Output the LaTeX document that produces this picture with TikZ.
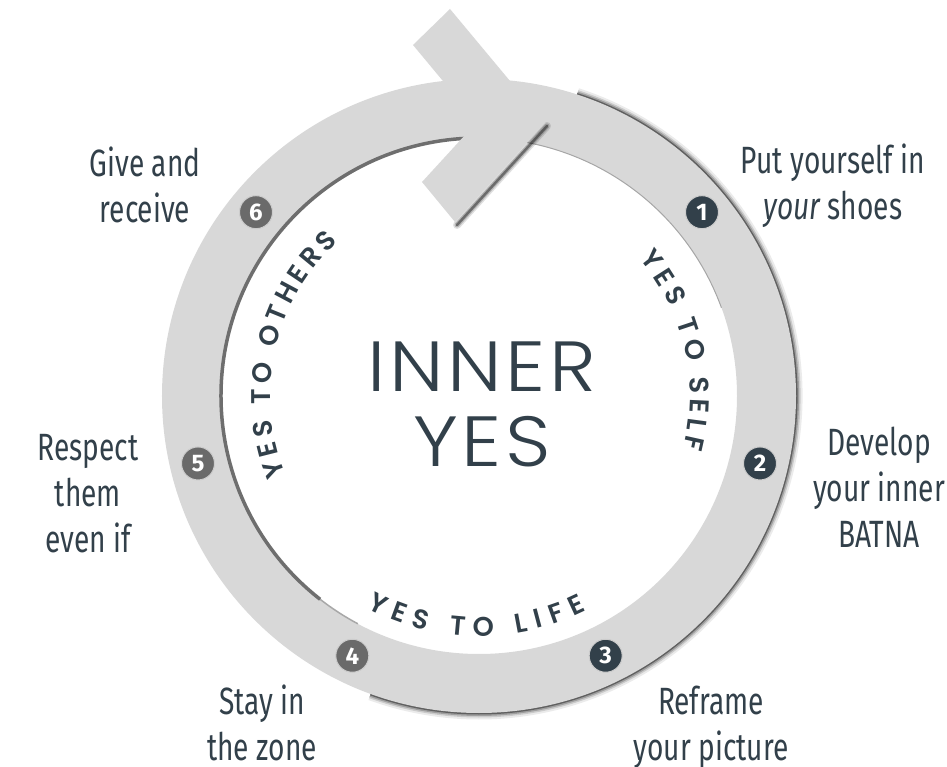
\documentclass[tikz,border=0pt]{standalone}
\usepackage{fontspec}
\usetikzlibrary{decorations.text}
\newfontfamily\labelfont{Fira Sans}[FakeStretch=0.74]
\newfontfamily\numfont{Fira Sans}
\newfontfamily\corefont{Poppins Light}[FakeStretch=1.12, LetterSpace=5]
\newfontfamily\ringfont{Poppins SemiBold}
\definecolor{slate}{RGB}{50,64,74}
\definecolor{bandgray}{RGB}{216,216,216}
\definecolor{edgegray}{RGB}{110,110,110}
\definecolor{dotgray}{RGB}{106,106,106}
\tikzset{
  steplabel/.style={font=\labelfont\fontsize{38}{46}\selectfont, text=slate, align=center, anchor=base, inner sep=0pt},
  numdark/.style={circle, fill=slate, draw=white!80!black, line width=1pt, minimum size=33pt, inner sep=0pt,
    text=white, font=\numfont\bfseries\fontsize{24}{24}\selectfont},
  numlight/.style={numdark, fill=dotgray},
  ringtext/.style={decorate, decoration={text along path, text align=fit to path, text color=slate}},
}
\begin{document}
\begin{tikzpicture}[x=1pt,y=1pt]
\useasboundingbox (-479,-371) rectangle (468,396);

% soft shadow under the right half of the ring
\foreach \w/\o in {13/0.08, 9/0.14, 6/0.22, 3/0.4}
  \draw[line width=\w pt, opacity=\o] (72:317pt) arc[start angle=72, end angle=-110, radius=317pt];

% the ring
\fill[bandgray, even odd rule] (0,0) circle[radius=317pt] (0,0) circle[radius=258pt];
\draw[edgegray, line width=3.5pt] (93:258pt) arc[start angle=93, end angle=232, radius=258pt];
\draw[edgegray!60, line width=1.5pt] (232:258pt) arc[start angle=232, end angle=242, radius=258pt];
\draw[gray!70, line width=1pt] (80:258pt) arc[start angle=80, end angle=20, radius=258pt];

% arrow head on top
\foreach \w/\o in {8/0.12, 5/0.2, 2.5/0.4}
  \draw[line width=\w pt, opacity=\o, line cap=round] (-22,171) -- (68,270);
\fill[bandgray] (-29,387) -- (66,273) -- (-24,174) -- (-57,214) -- (-2,274) -- (-66,351) -- cycle;

% steps
\node[numdark] (n1) at (39.5:289pt) {1};
\node[numdark] (n2) at (-13.5:289pt) {2};
\node[numdark] (n3) at (-64:289pt) {3};
\node[numlight] (n4) at (-116:289pt) {4};
\node[numlight] (n5) at (-166.5:289pt) {5};
\node[numlight] (n6) at (140.5:289pt) {6};

% words along the inside of the ring
\path[ringtext, decoration={text={|\ringfont\fontsize{27}{27}\selectfont|YES TO SELF}}]
  (40.5:211pt) arc[start angle=40.5, end angle=-14.5, radius=211pt];
\path[ringtext, decoration={text={|\ringfont\fontsize{27}{27}\selectfont|YES TO LIFE}}]
  (-118:240pt) arc[start angle=-118, end angle=-63.5, radius=240pt];
\path[ringtext, decoration={text={|\ringfont\fontsize{27}{27}\selectfont|YES TO OTHERS}}]
  (202:209pt) arc[start angle=202, end angle=132.5, radius=209pt];

\node[font=\corefont\fontsize{71}{71}\selectfont, text=slate, anchor=base, inner sep=0pt] (inner) at (3,4) {INNER};
\node[font=\corefont\fontsize{71}{71}\selectfont, text=slate, anchor=base, inner sep=0pt] (yes) at (3,-71) {YES};

\node[steplabel] (give) at (-334,173) {Give and\\receive};
\node[steplabel] (put) at (354,176) {Put yourself in\\{\itshape your} shoes};
\node[steplabel] (develop) at (400,-152) {Develop\\your inner\\BATNA};
\node[steplabel] (respect) at (-391,-157) {Respect\\them\\even if};
\node[steplabel] (stay) at (-217,-364) {Stay in\\the zone};
\node[steplabel] (reframe) at (232,-364) {Reframe\\your picture};
\end{tikzpicture}
\end{document}
